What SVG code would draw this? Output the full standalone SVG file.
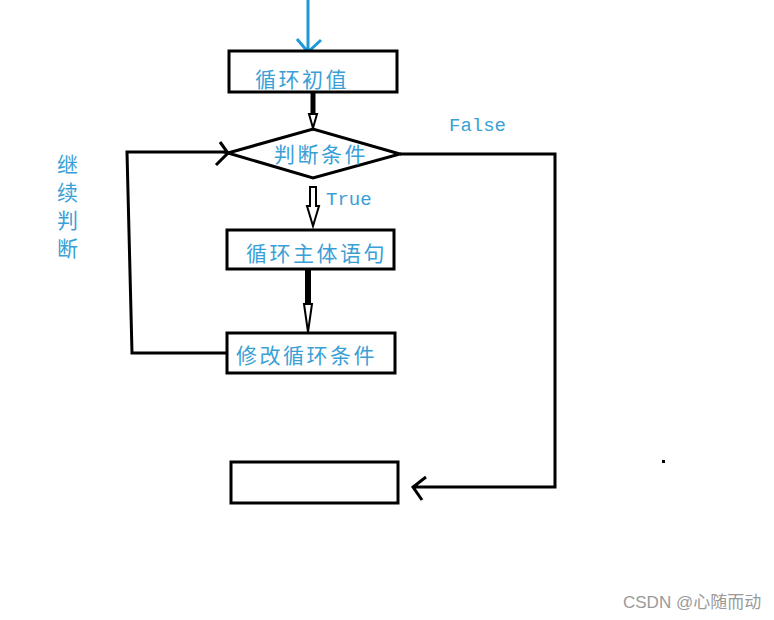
<svg xmlns="http://www.w3.org/2000/svg" width="774" height="620" viewBox="0 0 774 620">
<style>
.box{fill:#fff;stroke:#000;stroke-width:3}
.ln{fill:none;stroke:#000;stroke-width:3;stroke-linejoin:miter}
.cn{font-family:"Noto Sans CJK SC","Liberation Sans",sans-serif;font-size:21px;letter-spacing:2.5px;fill:#3a9fd6}
.mono{font-family:"Liberation Mono",monospace;font-size:19px;fill:#3a9fd6}
.wm{font-family:"Liberation Sans","Noto Sans CJK SC",sans-serif;font-size:17px;fill:#9a9a9a}
</style>
<rect width="774" height="620" fill="#fff"/>
<g id="start-arrow">
<path d="M308 0 V52 M297 39 L308 52 L321 40" fill="none" stroke="#1e9ad8" stroke-width="3"/>
</g>
<g id="init">
<rect class="box" x="229" y="51" width="168" height="41"/>
<text class="cn" x="255" y="87">循环初值</text>
</g>
<g id="cond">
<polygon class="box" points="228,153 313,129 400,154 313,178"/>
<text class="cn" x="274" y="162">判断条件</text>
</g>
<g id="body">
<rect class="box" x="227" y="230" width="167" height="39"/>
<text class="cn" x="246" y="261">循环主体语句</text>
</g>
<g id="update">
<rect class="box" x="227" y="333" width="168" height="40"/>
<text class="cn" x="236" y="363">修改循环条件</text>
</g>
<g id="end">
<rect class="box" x="231" y="462" width="167" height="41"/>
</g>
<g id="connectors">
<path d="M313 92 V114" stroke="#000" stroke-width="5" fill="none"/>
<path d="M309 114 H317 L313 128 Z" fill="#fff" stroke="#000" stroke-width="2"/>
<path d="M310 187 H316 V206 H319 L313 226 L307 206 H310 Z" fill="#fff" stroke="#000" stroke-width="2"/>
<path d="M308 269 V304" stroke="#000" stroke-width="6" fill="none"/>
<path d="M304 304 H312 L308 332 Z" fill="#fff" stroke="#000" stroke-width="2"/>
<path class="ln" d="M227 353 H132 L127 152 H228 M220 142 L228 153 L216 165"/>
<path class="ln" d="M400 154 H555 V487 H413 M426 477 L413 487 L422 500"/>
</g>
<g id="labels">
<text class="mono" x="326" y="205">True</text>
<text class="mono" x="449" y="131">False</text>
<text class="cn" x="57" y="172">继</text>
<text class="cn" x="57" y="200">续</text>
<text class="cn" x="57" y="228">判</text>
<text class="cn" x="57" y="256">断</text>
</g>
<rect x="662" y="460" width="3" height="3" fill="#000"/>
<text class="wm" x="623" y="608">CSDN @心随而动</text>
</svg>
